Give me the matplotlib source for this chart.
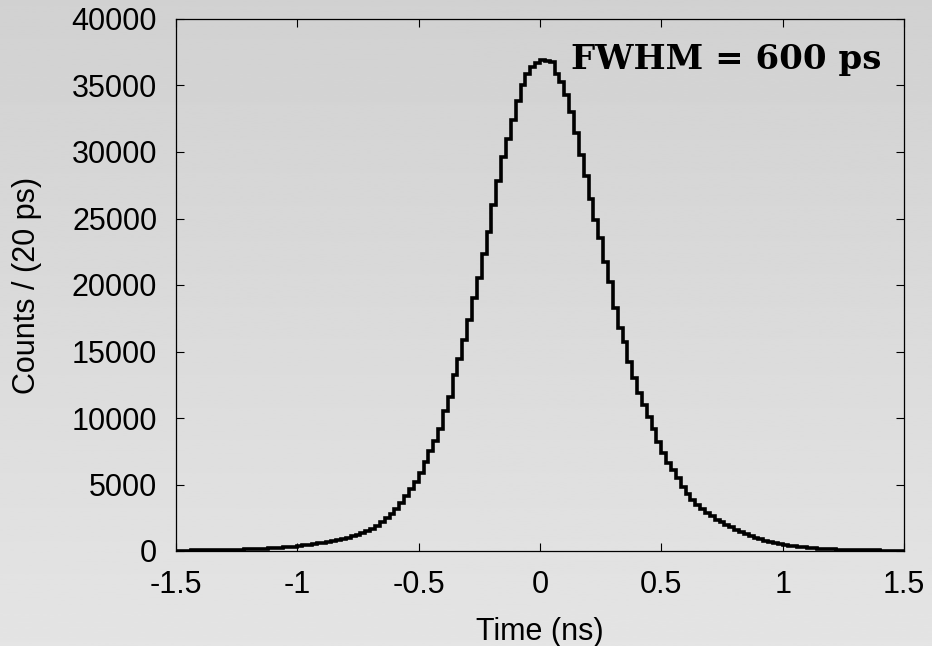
import numpy as np
import matplotlib
matplotlib.use("Agg")
import matplotlib.pyplot as plt

# === Data: counts per 20 ps bin ===
bin_edges = np.round(np.arange(-1.5, 1.5 + 0.01, 0.02), 2)
counts = [
    30, 32, 35, 40, 42, 48, 52, 58, 64, 70,
    78, 86, 95, 105, 118, 130, 145, 160, 178, 198,
    220, 245, 270, 300, 335, 375, 415, 460, 510, 570,
    635, 700, 760, 830, 910, 1000, 1100, 1210, 1340, 1500,
    1680, 1900, 2150, 2450, 2800, 3150, 3600, 4100, 4650, 5200,
    5850, 6700, 7500, 8250, 9200, 10500, 11600, 13200, 14400, 15900,
    17400, 19000, 20500, 22300, 24000, 26000, 27800, 29600, 31000, 32400,
    33800, 35000, 35900, 36400, 36700, 36900, 36850, 36800, 35900, 35300,
    34300, 33000, 31400, 29800, 28200, 26500, 24900, 23500, 21700, 20200,
    18300, 16800, 15700, 14200, 13000, 11900, 11000, 10100, 9200, 8200,
    7400, 6600, 6100, 5500, 4800, 4300, 3800, 3450, 3150, 2850,
    2600, 2350, 2150, 1950, 1770, 1600, 1420, 1270, 1130, 1000,
    880, 780, 690, 610, 540, 470, 410, 360, 315, 275,
    240, 210, 185, 160, 140, 122, 106, 93, 82, 72,
    64, 57, 51, 46, 41, 37, 34, 31, 29, 27,
]
x_ticks = [-1.5, -1, -0.5, 0, 0.5, 1, 1.5]
x_tick_labels = ["-1.5", "-1", "-0.5", "0", "0.5", "1", "1.5"]
y_ticks = [0, 5000, 10000, 15000, 20000, 25000, 30000, 35000, 40000]

plt.rcParams["font.family"] = ["Liberation Sans", "DejaVu Sans"]

fig = plt.figure(figsize=(9.32, 6.46), dpi=100)

# gray vertical gradient background
bg = fig.add_axes([0, 0, 1, 1], zorder=0)
grad = np.linspace(0.82, 0.895, 256).reshape(-1, 1)
bg.imshow(grad, cmap="gray", vmin=0, vmax=1, aspect="auto", extent=[0, 1, 0, 1])
bg.set_axis_off()

ax = fig.add_axes([176 / 932, 95 / 646, 728 / 932, 532 / 646], zorder=1)
ax.patch.set_alpha(0)

ax.stairs(counts, bin_edges, color="black", linewidth=2.6, baseline=None)

ax.set_xlim(-1.5, 1.5)
ax.set_ylim(0, 40000)
ax.set_xticks(x_ticks)
ax.set_xticklabels(x_tick_labels)
ax.set_yticks(y_ticks)
ax.tick_params(direction="in", length=6, width=0.8, top=True, right=True,
               labelsize=22)
ax.tick_params(axis="x", pad=14)
ax.tick_params(axis="y", pad=13.5)
for s in ax.spines.values():
    s.set_linewidth(0.9)

ax.set_xlabel("Time (ns)", fontsize=22, labelpad=12)
fig.text(27 / 932, 1 - 285 / 646, "Counts / (20 ps)", rotation=90,
         ha="center", va="center", fontsize=22)

ax.text(0.9694, 0.9055, "FWHM = 600 ps", transform=ax.transAxes,
        ha="right", va="baseline", fontsize=24.5, fontweight="bold",
        family="DejaVu Serif")

fig.savefig("out.png", dpi=100)
